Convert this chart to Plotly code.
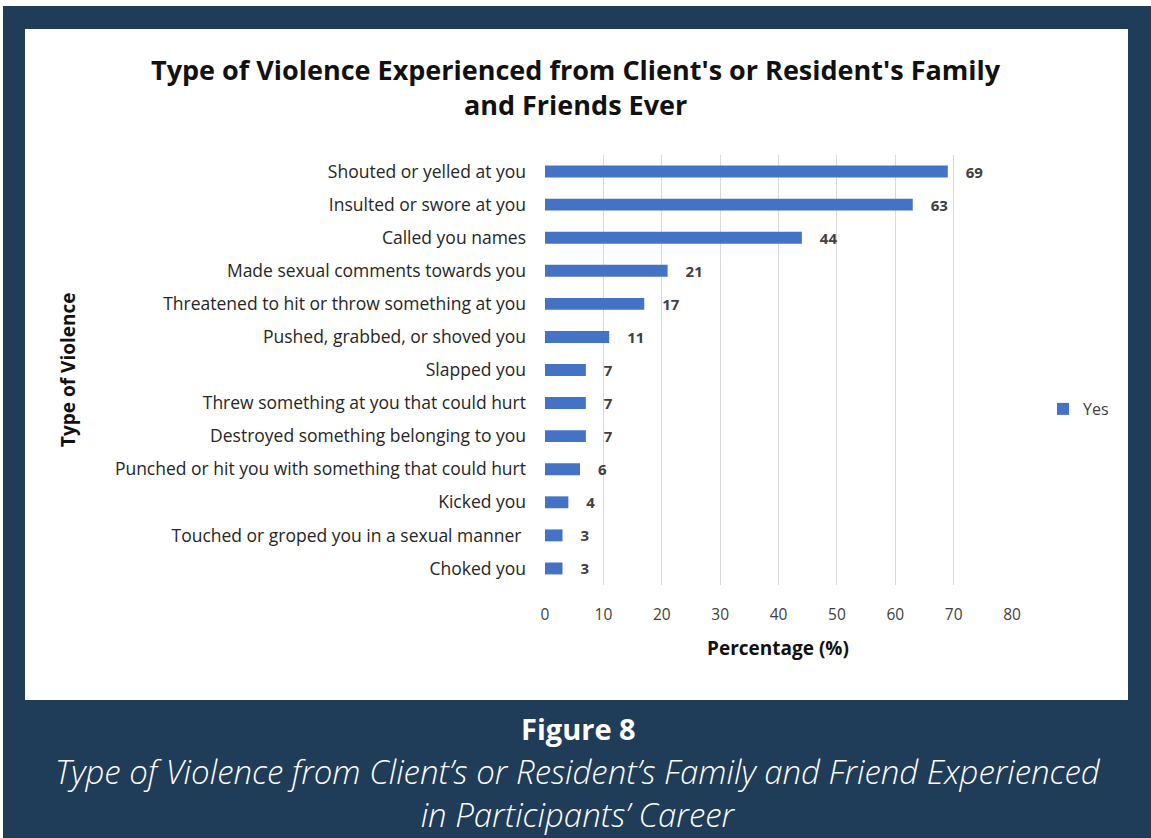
import plotly.graph_objects as go

categories = [
    "Shouted or yelled at you",
    "Insulted or swore at you",
    "Called you names",
    "Made sexual comments towards you",
    "Threatened to hit or throw something at you",
    "Pushed, grabbed, or shoved you",
    "Slapped you",
    "Threw something at you that could hurt",
    "Destroyed something belonging to you",
    "Punched or hit you with something that could hurt",
    "Kicked you",
    "Touched or groped you in a sexual manner ",
    "Choked you",
]
values = [69, 63, 44, 21, 17, 11, 7, 7, 7, 6, 4, 3, 3]
x_ticks = [0, 10, 20, 30, 40, 50, 60, 70, 80]

W, H = 1151, 838
L, R, T, B = 545, 1151 - 1012, 155, 838 - 585
PW, PH = W - L - R, H - T - B

def px(x):
    return (x - L) / PW

def py(y):
    return (H - B - y) / PH

NAVY = "#1f3c58"
BLUE = "#4472c4"

fig = go.Figure()
fig.add_trace(go.Bar(
    y=categories, x=values, orientation="h", name="Yes",
    marker=dict(color=BLUE, line=dict(width=0)),
    texttemplate="\u2003%{x}", textposition="outside", cliponaxis=False,
    constraintext="none",
    textfont=dict(family="Open Sans", size=15, color="#404040", weight="bold"),
))

fig.update_layout(
    width=W, height=H,
    margin=dict(l=L, r=R, t=T, b=B, autoexpand=False),
    paper_bgcolor=NAVY, plot_bgcolor="rgba(0,0,0,0)",
    bargap=0.64,
    showlegend=True,
    legend=dict(x=px(1043), y=py(409), xanchor="left", yanchor="middle",
                font=dict(family="Open Sans", size=16, color="#404040"),
                bgcolor="rgba(0,0,0,0)", itemwidth=30),
    xaxis=dict(range=[0, 80], tickvals=x_ticks, showgrid=True, gridcolor="#d9d9d9",
               gridwidth=1, zeroline=False, showline=False, ticks="",
               ticklabelstandoff=18,
               tickfont=dict(family="Open Sans", size=15.5, color="#404040")),
    yaxis=dict(autorange="reversed", showgrid=False, zeroline=False, showline=False,
               ticks="", ticklabelstandoff=18,
               tickfont=dict(family="Open Sans", size=17.5, color="#262626")),
    shapes=[
        dict(type="rect", xref="paper", yref="paper", layer="below",
             x0=px(25), x1=px(1128), y0=py(700), y1=py(29),
             fillcolor="white", line=dict(width=0)),
        dict(type="rect", xref="paper", yref="paper", layer="below",
             x0=px(0), x1=px(1151), y0=py(6), y1=py(0),
             fillcolor="white", line=dict(width=0)),
        dict(type="rect", xref="paper", yref="paper", layer="below",
             x0=px(0), x1=px(3), y0=py(838), y1=py(0),
             fillcolor="white", line=dict(width=0)),
    ],
    annotations=[
        dict(text="<b>Type of Violence Experienced from Client's or Resident's Family<br>and Friends Ever</b>",
             xref="paper", yref="paper", x=px(576), y=py(87), showarrow=False,
             xanchor="center", yanchor="middle",
             font=dict(family="Open Sans", size=27, color="#111111")),
        dict(text="<b>Type of Violence</b>", textangle=-90,
             xref="paper", yref="paper", x=px(68), y=py(370), showarrow=False,
             xanchor="center", yanchor="middle",
             font=dict(family="Open Sans", size=19, color="#111111")),
        dict(text="<b>Percentage (%)</b>",
             xref="paper", yref="paper", x=px(778), y=py(648), showarrow=False,
             xanchor="center", yanchor="middle",
             font=dict(family="Open Sans", size=19, color="#111111")),
        dict(text="Figure 8",
             xref="paper", yref="paper", x=px(578), y=py(728), showarrow=False,
             xanchor="center", yanchor="middle",
             font=dict(family="Open Sans", size=29, color="white", weight="bold")),
        dict(text="Type of Violence from Client\u2019s or Resident\u2019s Family and Friend Experienced<br>in Participants\u2019 Career",
             xref="paper", yref="paper", x=px(578), y=py(793), showarrow=False,
             xanchor="center", yanchor="middle",
             font=dict(family="Open Sans", size=33, color="white", style="italic", weight=300)),
    ],
)

fig.write_html("out.html", config={"displayModeBar": False},
               post_script="document.body.style.margin='0';document.body.style.overflow='hidden';")
